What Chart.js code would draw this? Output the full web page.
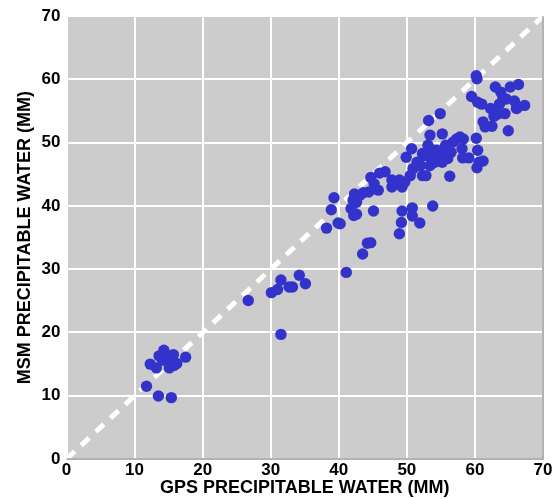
<!DOCTYPE html>
<html>
<head>
<meta charset="utf-8">
<script src="https://cdn.jsdelivr.net/npm/chart.js@4/dist/chart.umd.min.js"></script>
<style>
html,body{margin:0;padding:0;background:#fff;}
#wrap{width:555px;height:499px;}
</style>
</head>
<body>
<div id="wrap"><canvas id="scatterChart" width="555" height="499"></canvas></div>
<script>
// GPS vs MSM precipitable water (mm)
var gpsPW = [11.75,13.5,15.4,12.3,13.2,13.6,14.3,14.8,15.1,15.7,15.8,16.2,17.5,14.1,15.3,
  26.7,30.1,31.0,31.5,32.7,33.2,34.2,35.1,31.5,41.1,43.5,44.2,44.7,38.2,39.9,40.2,38.9,39.3,41.8,42.2,42.6,45.1,
  48.9,49.2,49.3,50.8,50.8,51.9,53.8,56.3,60.3,60.6,61.2,60.4,58.2,59.1,
  42.1,42.3,42.6,43.1,43.6,44.4,44.7,45.2,45.8,46.0,46.8,47.8,47.8,48.4,48.9,49.3,49.7,49.9,50.5,50.7,50.9,51.5,52.0,52.3,52.6,52.8,53.1,53.2,53.4,53.6,53.9,54.1,54.7,54.9,55.2,55.5,55.7,56.0,56.5,56.8,57.3,57.8,58.1,58.3,54.4,52.3,53.4,55.2,
  59.5,60.2,60.4,61.0,60.2,60.3,61.2,61.5,62.3,62.5,63.0,62.8,63.3,63.8,64.1,64.4,64.6,64.9,65.2,65.8,66.2,66.4,67.3,66.1,63.6];
var msmPW = [11.5,9.95,9.7,15.0,14.4,16.3,17.2,16.3,14.4,16.5,14.8,15.1,16.1,15.6,15.6,
  25.05,26.3,26.8,28.3,27.2,27.2,29.05,27.7,19.7,29.5,32.4,34.1,34.2,36.5,37.3,37.2,39.4,41.3,39.6,38.5,38.7,39.2,
  35.6,37.4,39.2,39.7,38.4,37.3,40.0,44.7,46.05,46.9,47.1,48.8,47.6,47.6,
  40.9,41.9,40.6,41.7,42.1,42.2,44.5,43.5,42.5,45.2,45.4,44.1,43.0,43.5,44.1,43.0,43.8,47.7,44.8,49.05,45.9,46.9,46.4,44.8,48.0,44.8,49.6,53.5,51.2,47.5,48.8,46.9,48.0,54.6,51.4,48.0,49.6,47.5,48.5,50.1,50.6,50.9,49.05,50.6,48.8,48.3,46.4,46.9,
  57.3,50.7,56.4,56.1,60.6,60.1,53.3,52.5,55.4,52.6,58.8,54.2,54.5,58.0,56.9,54.6,56.9,51.9,58.8,56.6,55.5,59.2,55.9,55.4,56.1];
var oneToOne = [0,70];
var axisTicks = [0,10,20,30,40,50,60,70];

var pts = [];
for (var i = 0; i < gpsPW.length; i++) {
  pts.push({x: gpsPW[i], y: msmPW[i]});
}
var diag = [];
for (var j = 0; j < oneToOne.length; j++) {
  diag.push({x: oneToOne[j], y: oneToOne[j]});
}

var plotBg = {
  id: 'plotBg',
  beforeDraw: function(chart) {
    var c = chart.ctx, a = chart.chartArea;
    c.save();
    c.fillStyle = '#cccccc';
    c.fillRect(a.left, a.top, a.right - a.left, a.bottom - a.top);
    c.restore();
  },
  afterDraw: function(chart) {
    var c = chart.ctx, a = chart.chartArea;
    c.save();
    c.strokeStyle = '#999999';
    c.lineWidth = 1.5;
    c.beginPath();
    c.moveTo(a.right, a.top);
    c.lineTo(a.right, a.bottom);
    c.lineTo(a.left, a.bottom);
    c.stroke();
    c.restore();
  }
};

Chart.defaults.font.family = '"Liberation Sans", Arial, sans-serif';
Chart.defaults.color = '#000';

var ctx = document.getElementById('scatterChart').getContext('2d');
var myChart = new Chart(ctx, {
  type: 'scatter',
  data: {
    datasets: [
      {
        data: pts,
        backgroundColor: '#3333cc',
        borderColor: '#3333cc',
        borderWidth: 0,
        pointRadius: 5.7,
        order: 1
      },
      {
        type: 'line',
        data: diag,
        borderColor: '#ffffff',
        borderWidth: 5,
        borderDash: [11, 9],
        pointRadius: 0,
        fill: false,
        order: 2
      }
    ]
  },
  plugins: [plotBg],
  options: {
    responsive: false,
    animation: false,
    layout: {padding: {left: 14, right: 12, top: -3, bottom: 0}},
    plugins: {legend: {display: false}, tooltip: {enabled: false}},
    scales: {
      x: {
        type: 'linear', min: 0, max: 70,
        afterBuildTicks: function(s) { s.ticks = axisTicks.map(function(v){ return {value: v}; }); },
        grid: {color: '#ffffff', lineWidth: 2, drawTicks: false},
        border: {display: false},
        ticks: {padding: 1, font: {size: 17, weight: 'bold'}, maxRotation: 0},
        title: {display: true, text: 'GPS PRECIPITABLE WATER (MM)', font: {size: 18, weight: 'bold'}, padding: {top: -4, bottom: 0}}
      },
      y: {
        type: 'linear', min: 0, max: 70,
        afterBuildTicks: function(s) { s.ticks = axisTicks.map(function(v){ return {value: v}; }); },
        grid: {color: '#ffffff', lineWidth: 2, drawTicks: false},
        border: {display: false},
        ticks: {padding: 6, font: {size: 17, weight: 'bold'}},
        title: {display: true, text: 'MSM PRECIPITABLE WATER (MM)', font: {size: 18, weight: 'bold'}, padding: {top: 0, bottom: 0}}
      }
    }
  }
});
</script>
</body>
</html>
